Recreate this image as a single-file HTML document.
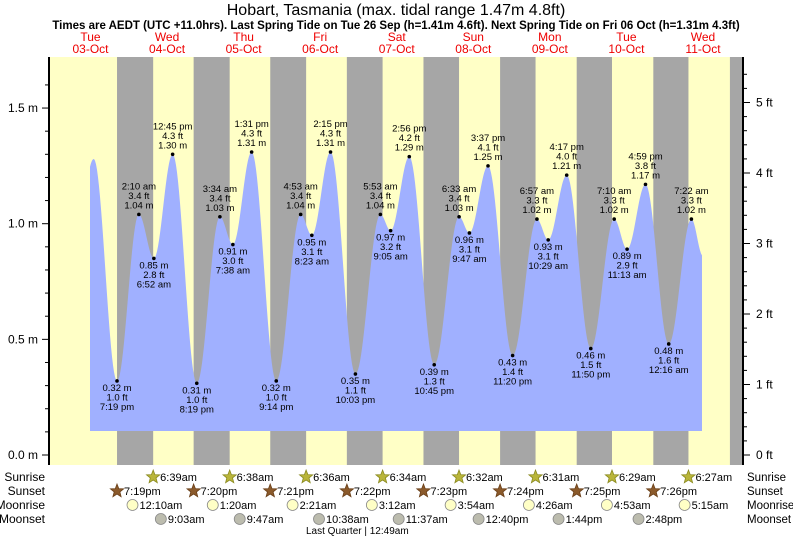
<!DOCTYPE html>
<html><head><meta charset="utf-8"><style>
body{margin:0;background:#fff;}
svg{display:block;font-family:"Liberation Sans",Arial,sans-serif;}
</style></head><body>
<svg id="c" width="793" height="539" viewBox="0 0 793 539"></svg>
<script>
const extDay=[0,0,0,1,1,1,1,2,2,2,2,3,3,3,3,4,4,4,4,5,5,5,5,6,6,6,6,7,7,7,8,8];
const extTime=["6:00 am","12:00 pm","7:19 pm","2:10 am","6:52 am","12:45 pm","8:19 pm","3:34 am","7:38 am","1:31 pm","9:14 pm","4:53 am","8:23 am","2:15 pm","10:03 pm","5:53 am","9:05 am","2:56 pm","10:45 pm","6:33 am","9:47 am","3:37 pm","11:20 pm","6:57 am","10:29 am","4:17 pm","11:50 pm","7:10 am","11:13 am","4:59 pm","12:16 am","7:22 am"];
const extH=[0.9,1.28,0.32,1.04,0.85,1.30,0.31,1.03,0.91,1.31,0.32,1.04,0.95,1.31,0.35,1.04,0.97,1.29,0.39,1.03,0.96,1.25,0.43,1.02,0.93,1.21,0.46,1.02,0.89,1.17,0.48,1.02];
const extLabeled=[0,0,1,1,1,1,1,1,1,1,1,1,1,1,1,1,1,1,1,1,1,1,1,1,1,1,1,1,1,1,1,1];
const endDay=8, endTime="11:00 am", endH=0.86;
const dayNames=["Tue","Wed","Thu","Fri","Sat","Sun","Mon","Tue","Wed"];
const dayDates=["03-Oct","04-Oct","05-Oct","06-Oct","07-Oct","08-Oct","09-Oct","10-Oct","11-Oct"];
const sunrise=["6:39am","6:38am","6:36am","6:34am","6:32am","6:31am","6:29am","6:27am"]; // days 1..8
const sunset=["7:19pm","7:20pm","7:21pm","7:22pm","7:23pm","7:24pm","7:25pm","7:26pm","7:27pm"]; // days 0..8
const moonrise=["12:10am","1:20am","2:21am","3:12am","3:54am","4:26am","4:53am","5:15am"]; // days 1..8
const moonset=["9:03am","9:47am","10:38am","11:37am","12:40pm","1:44pm","2:48pm"]; // days 1..7
const mTicks=[0,0.5,1.0,1.5];
const ftTicks=[0,1,2,3,4,5];

const NS="http://www.w3.org/2000/svg";
const svg=document.getElementById('c');
const X0=55.4, PXH=3.19, Y0=455, PXM=231.3;
const PL=49, PR=743, PT=57, PB=465, FILLB=431;
function xOf(h){return X0+h*PXH;}
function yOf(m){return Y0-m*PXM;}
function hrs(day,t){const s=t.replace(/\s/g,'');const mm=s.match(/(\d+):(\d+)(am|pm)/);let h=+mm[1]%12;if(mm[3]==='pm')h+=12;return day*24+h+(+mm[2])/60;}
function el(tag,attrs,text){const e=document.createElementNS(NS,tag);for(const k in attrs)e.setAttribute(k,attrs[k]);if(text!==undefined)e.textContent=text;svg.appendChild(e);return e;}

let bg=el('rect',{x:PL,y:PT,width:PR-PL,height:PB-PT,fill:'#ffffc6'});


for(let d=0;d<sunset.length;d++){
  const s=xOf(hrs(d,sunset[d]));
  const e=d<sunrise.length?xOf(hrs(d+1,sunrise[d])):PR;
  const r=el('rect',{x:s,y:PT,width:Math.min(e,PR)-s,height:PB-PT,fill:'#a6a6a6'});
  
  
}
const tH=extDay.map((d,i)=>hrs(d,extTime[i]));
const tAll=tH.concat([hrs(endDay,endTime)]), hAll=extH.concat([endH]);
function level(t){for(let i=0;i<tAll.length-1;i++){if(t>=tAll[i]&&t<=tAll[i+1]){const f=(t-tAll[i])/(tAll[i+1]-tAll[i]);return hAll[i]+(hAll[i+1]-hAll[i])*(1-Math.cos(Math.PI*f))/2;}}return hAll[hAll.length-1];}
const xs=90, xe=Math.min(702,xOf(tAll[tAll.length-1]));
let d=`M${xs},${FILLB}`;
for(let x=xs;x<=xe;x+=1){d+=` L${x},${yOf(level((x-X0)/PXH)).toFixed(1)}`;}
d+=` L${xe},${FILLB} Z`;
let tide=el('path',{d:d,fill:'#a0b0ff'});


for(let i=0;i<extH.length;i++){
  if(!extLabeled[i])continue;
  const x=xOf(tH[i]), y=yOf(extH[i]);
  const isHigh=(i>0&&extH[i]>extH[i-1]);
  const dot=el('circle',{cx:x,cy:y,r:1.8,fill:'#000'});
  
  
  const ft=(extH[i]*3.28084).toFixed(1)+' ft', m=extH[i].toFixed(2)+' m';
  const lines=isHigh?[extTime[i],ft,m]:[m,ft,extTime[i]];
  const base=isHigh?y-25:y+10;
  lines.forEach((s,k)=>{const t=el('text',{x:x,y:base+k*9.5,'font-size':'9.5','text-anchor':'middle',fill:'#000'},s);
    
    });
}
let ax=el('path',{d:`M${PL},${PT}V${PB}M${PR},${PT}V${PB}`,stroke:'#000','stroke-width':2,fill:'none'});


for(let v=0;v<=1.7;v+=0.1){const y=yOf(v);if(y<PT)break;const big=Math.abs(v*2-Math.round(v*2))<1e-6;
  el('line',{x1:PL-(big?7:4),x2:PL,y1:y,y2:y,stroke:'#000'});}
mTicks.forEach(v=>{const t=el('text',{x:38,y:yOf(v)+4,'font-size':'12','text-anchor':'end'},v.toFixed(1)+' m');
  
  });
for(let f=0;f<=5.6;f+=0.2){const y=Y0-f*0.3048*PXM;if(y<PT)break;const big=Math.abs(f-Math.round(f))<1e-6;
  el('line',{x1:PR,x2:PR+(big?7:4),y1:y,y2:y,stroke:'#000'});}
ftTicks.forEach(f=>{const t=el('text',{x:756,y:Y0-f*0.3048*PXM+4,'font-size':'12'},f+' ft');
  
  });
let tt=el('text',{x:396,y:15,'font-size':'16','text-anchor':'middle'},'Hobart, Tasmania (max. tidal range 1.47m 4.8ft)');


let st=el('text',{x:396,y:29,'font-size':'11.5','font-weight':'bold','text-anchor':'middle'},'Times are AEDT (UTC +11.0hrs). Last Spring Tide on Tue 26 Sep (h=1.41m 4.6ft). Next Spring Tide on Fri 06 Oct (h=1.31m 4.3ft)');


dayNames.forEach((n,i)=>{const x=xOf(i*24+11);
  const a=el('text',{x:x,y:41,'font-size':'12','text-anchor':'middle',fill:'#e00'},n);
  
  
  const b=el('text',{x:x,y:53,'font-size':'12','text-anchor':'middle',fill:'#e00'},dayDates[i]);
  
  });
const rows=[["Sunrise",477],["Sunset",491],["Moonrise",505],["Moonset",519]];
rows.forEach(r=>{const a=el('text',{x:45,y:r[1]+4,'font-size':'12','text-anchor':'end'},r[0]);
  
  
  const b=el('text',{x:747,y:r[1]+4,'font-size':'11.5'},r[0]);
  
  });
function star(x,y,fill,stroke){let p='';for(let k=0;k<10;k++){const a=-Math.PI/2+k*Math.PI/5,r=k%2?3:7;p+=(x+r*Math.cos(a)).toFixed(1)+','+(y+r*Math.sin(a)).toFixed(1)+' ';}
  return el('polygon',{points:p,fill:fill,stroke:stroke,'stroke-width':0.8});}
function evt(day,t,row,kind){const x=xOf(hrs(day,t)),y=rows[row][1];let ic;
  if(kind==='sr')ic=star(x,y,'#b9b53a','#8a8a20');else if(kind==='ss')ic=star(x,y,'#8b5a2b','#6a3f18');
  else ic=el('circle',{cx:x,cy:y,r:5.5,fill:kind==='mr'?'#ffffc6':'#bcbcae',stroke:'#888','stroke-width':0.8});
  
  
  const tx=el('text',{x:x+7,y:y+4,'font-size':'11'},t);
  
  }
sunrise.forEach((t,i)=>evt(i+1,t,0,'sr'));
sunset.slice(0,8).forEach((t,i)=>evt(i,t,1,'ss'));
moonrise.forEach((t,i)=>evt(i+1,t,2,'mr'));
moonset.forEach((t,i)=>evt(i+1,t,3,'ms'));
let lq=el('text',{x:306,y:534,'font-size':'10'},'Last Quarter | 12:49am');


</script>
</body></html>
